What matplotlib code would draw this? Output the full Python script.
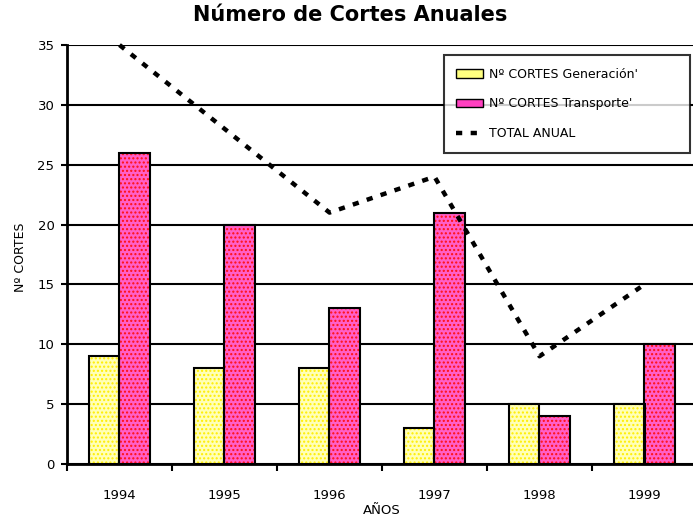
import numpy as np
import matplotlib.pyplot as plt
from matplotlib.patches import Patch
from matplotlib.lines import Line2D

# data
years = ['1994', '1995', '1996', '1997', '1998', '1999']
cortes_generacion = [9, 8, 8, 3, 5, 5]
cortes_transporte = [26, 20, 13, 21, 4, 10]
total_anual = [35, 28, 21, 24, 9, 15]

plt.rcParams['font.family'] = ['DejaVu Sans']

fig = plt.figure(figsize=(6.93, 5.2), dpi=100)
ax = fig.add_axes([67/693, 1-464/520, 630/693, 419/520])

x = np.arange(len(years))
w = 0.29

# bars: fill + dotted hatch first, then black outline on top
ax.bar(x - w/2, cortes_generacion, w, color='#ffffb8', hatch='....',
       edgecolor='#ffee00', linewidth=0, zorder=3)
ax.bar(x - w/2, cortes_generacion, w, fill=False, edgecolor='black',
       linewidth=1.5, zorder=4)
ax.bar(x + w/2, cortes_transporte, w, color='#ff5fc8', hatch='....',
       edgecolor='#ff1010', linewidth=0, zorder=3)
ax.bar(x + w/2, cortes_transporte, w, fill=False, edgecolor='black',
       linewidth=1.5, zorder=4)

# total line
ax.plot(x, total_anual, color='black', lw=3.2, linestyle=(0, (1.4, 1.9)),
        dash_capstyle='butt', zorder=5, clip_on=False)

# axes limits and ticks
ax.set_xlim(-0.5, 5.5)
ax.set_ylim(0, 35)
ax.set_yticks(np.arange(0, 36, 5))
ax.set_xticks(x - 0.5, minor=False)
ax.set_xticklabels([])
ax.set_xticks(x, minor=True)
ax.set_xticklabels(years, minor=True, fontsize=9.5)
ax.tick_params(axis='x', which='major', length=5, width=1.5, direction='out')
ax.tick_params(axis='x', which='minor', length=0, pad=18)
ax.tick_params(axis='y', length=4, width=1.5, labelsize=9.5, pad=5)

ax.yaxis.grid(True, color='black', linewidth=1.5, zorder=0)
ax.set_axisbelow(True)
for s in ['top', 'right']:
    ax.spines[s].set_visible(False)
for s in ['left', 'bottom']:
    ax.spines[s].set_linewidth(2)

fig.text(20/693, 1-257/520, 'Nº CORTES', rotation=90, fontsize=9,
         ha='center', va='center')
fig.text(382/693, 1-510/520, 'AÑOS', fontsize=9.5, ha='center', va='center')
fig.text(350/693, 1-15/520, 'Número de Cortes Anuales', fontsize=15,
         fontweight='bold', ha='center', va='center')

handles = [
    Patch(facecolor='#ffff80', edgecolor='black', label='Nº CORTES Generación\''),
    Patch(facecolor='#ff40c0', edgecolor='black', label='Nº CORTES Transporte\''),
    Line2D([0], [0], color='black', lw=3.2, linestyle=(0, (1.4, 1.9)),
           label='TOTAL ANUAL'),
]
leg = fig.legend(handles=handles, loc='upper left', mode='expand',
                 bbox_to_anchor=(444/693, 1-150/520, 246/693, 95/520),
                 fontsize=9, frameon=True, fancybox=False, handlelength=2.1,
                 handleheight=0.7, handletextpad=0.5, labelspacing=1.35,
                 borderpad=1.0, borderaxespad=0)
leg.get_frame().set_edgecolor('black')
leg.get_frame().set_linewidth(1.5)

fig.savefig('out.png', dpi=100)
